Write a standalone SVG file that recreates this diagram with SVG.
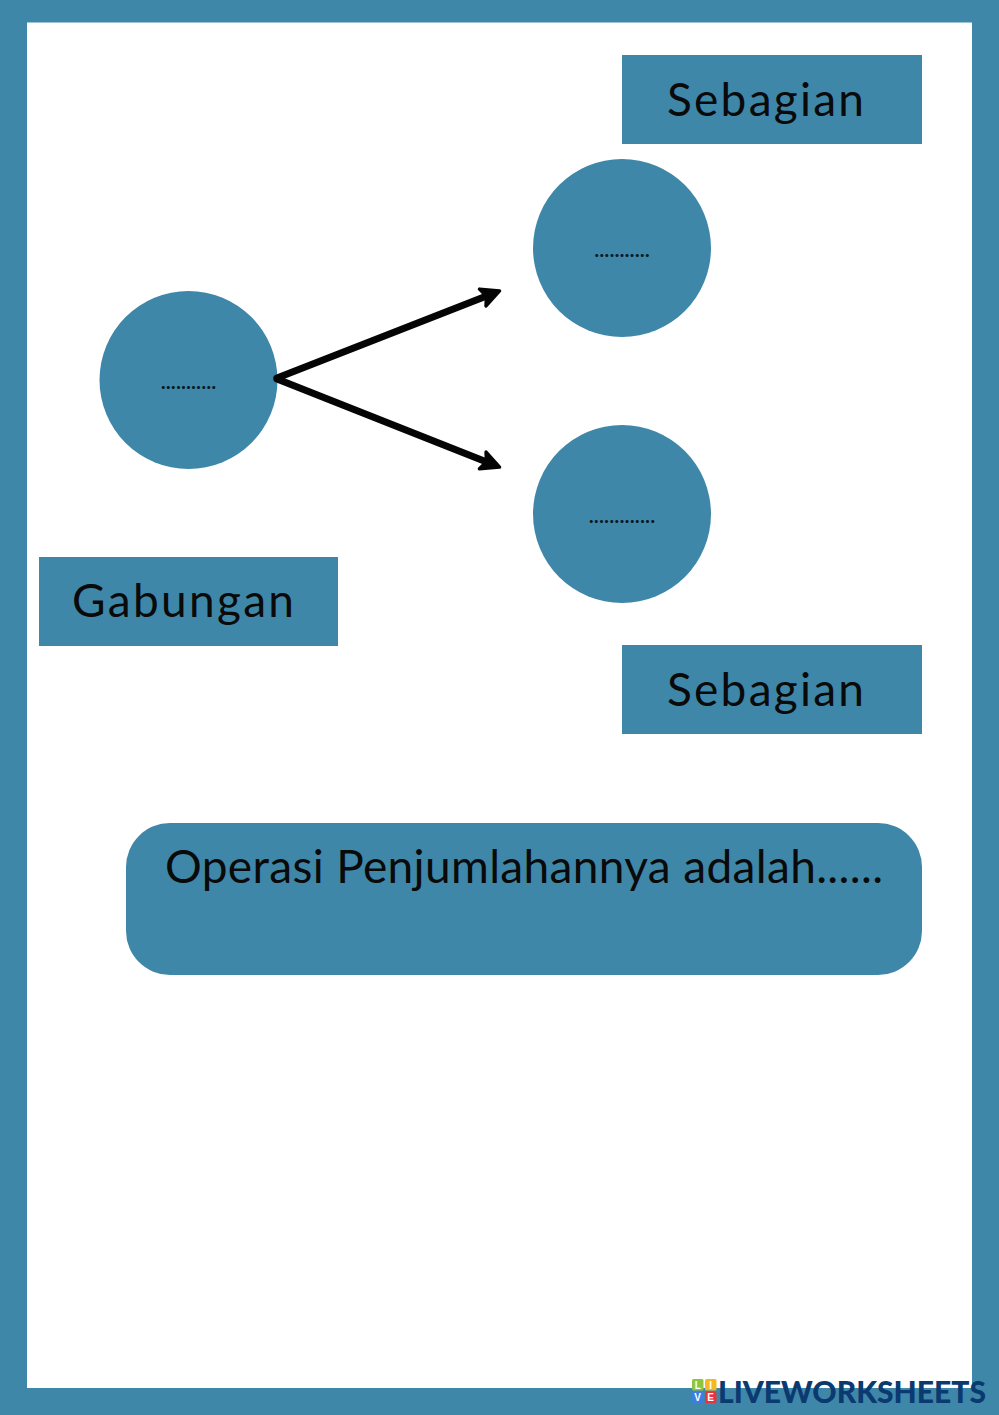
<svg xmlns="http://www.w3.org/2000/svg" width="999" height="1415" viewBox="0 0 999 1415">
<style>
.b{fill:#3f87a9}
.t{font-family:"Lato","Open Sans",sans-serif;font-size:46px;fill:#0a0a0a}
.d{font-family:"Lato",sans-serif;font-size:19px;font-weight:900;fill:#0a1a24;text-anchor:middle}
.c{fill:none;stroke:#050505;stroke-width:7;stroke-linecap:round}
.w{font-family:"Lato","Liberation Sans",sans-serif;font-weight:900;font-size:31px;fill:#0b3a70}
.l{font-family:"Liberation Sans",sans-serif;font-weight:700;font-size:10px;fill:#fff;text-anchor:middle}
</style>
<defs><marker id="a" markerUnits="userSpaceOnUse" markerWidth="28" markerHeight="28" refX="14" refY="14" orient="auto"><path d="M3 5 L21 14 L3 23 L7 14 Z" fill="#050505" stroke="#050505" stroke-width="3.500" stroke-linejoin="round"/></marker></defs>
<rect id="frame" width="999" height="1415" class="b"/>
<rect id="page" x="27" y="22.500" width="945" height="1365.500" fill="#fff"/>
<g id="sebagian-top"><rect class="b" x="622" y="55" width="300" height="89"/><text class="t" x="667" y="116" textLength="197" lengthAdjust="spacing">Sebagian</text></g>
<g id="circle-top"><circle class="b" cx="622" cy="248" r="89"/><text class="d" x="622" y="257" textLength="55" lengthAdjust="spacing">...........</text></g>
<g id="circle-left"><circle class="b" cx="188.500" cy="380" r="89"/><text class="d" x="188.500" y="389" textLength="55" lengthAdjust="spacing">...........</text></g>
<g id="circle-bottom"><circle class="b" cx="622" cy="514" r="89"/><text class="d" x="622" y="523" textLength="66" lengthAdjust="spacing">.............</text></g>
<g id="gabungan"><rect class="b" x="39" y="557" width="299" height="89"/><text class="t" x="72" y="617" textLength="222" lengthAdjust="spacing">Gabungan</text></g>
<g id="sebagian-bottom"><rect class="b" x="622" y="645" width="300" height="89"/><text class="t" x="667" y="706" textLength="197" lengthAdjust="spacing">Sebagian</text></g>
<g id="operasi"><rect class="b" x="126" y="823" width="796" height="152" rx="44"/><text class="t" x="165" y="883" textLength="718" lengthAdjust="spacing">Operasi Penjumlahannya adalah......</text></g>
<g id="connectors">
<path class="c" d="M277 378 L493 293.500" marker-end="url(#a)"/>
<path class="c" d="M277 379 L493 464.500" marker-end="url(#a)"/>
</g>
<g id="watermark">
<rect x="692" y="1379" width="11.500" height="11.500" rx="1.500" fill="#8cc63f"/><rect x="705" y="1379" width="11.500" height="11.500" rx="1.500" fill="#f5b81f"/>
<rect x="692" y="1391.500" width="11.500" height="11.500" rx="1.500" fill="#3b7fe0"/><rect x="705" y="1391.500" width="11.500" height="11.500" rx="1.500" fill="#e5333f"/>
<text class="l" x="697.700" y="1388.500">L</text><text class="l" x="710.700" y="1388.500">I</text><text class="l" x="697.700" y="1401">V</text><text class="l" x="710.700" y="1401">E</text>
<text class="w" x="718" y="1402.500" textLength="268" lengthAdjust="spacingAndGlyphs">LIVEWORKSHEETS</text>
</g>
</svg>
